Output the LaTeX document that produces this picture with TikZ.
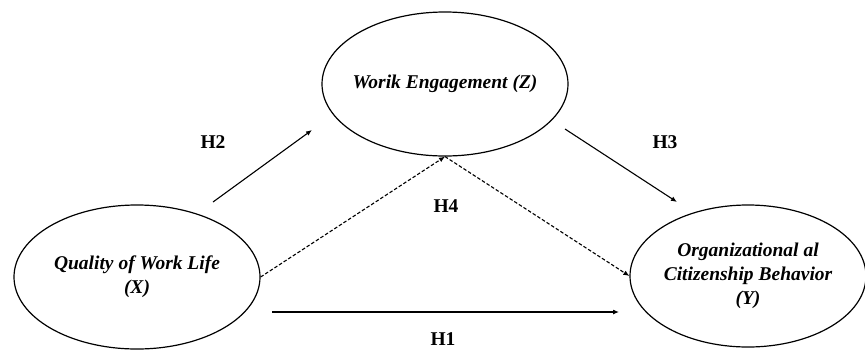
\documentclass[tikz,border=0pt]{standalone}
\usepackage{fontspec}
\setmainfont{Liberation Serif}
\usetikzlibrary{shapes.geometric,arrows.meta}
\tikzset{
	var/.style={ellipse, draw, line width=1.2pt, minimum width=246pt, minimum height=144pt, inner xsep=-40pt, inner ysep=-20pt, align=center, font=\fontsize{19.5}{24}\selectfont\bfseries\itshape},
	hyp/.style={font=\fontsize{19.5}{22}\selectfont\bfseries},
	link/.style={->, line width=1.1pt},
	mlink/.style={->, line width=1.1pt, dash pattern=on 3.5pt off 2pt}
}
\begin{document}
\begin{tikzpicture}[x=1pt, y=-1pt, >={Latex[length=6pt,width=5pt]}, line join=round]
	\useasboundingbox (0,0) rectangle (865,349);
	\node[var] (Z) at (445,84) {Worik Engagement (Z)};
	\node[var] (X) at (137,277) {Quality of Work Life\\(X)};
	\node[var, minimum width=236pt, minimum height=142pt] (Y) at (748,276) {Organizational al\\Citizenship Behavior\\(Y)};
	\coordinate (H2a)at(213,202);
	\coordinate (H2b)at(312,130);
	\coordinate (H3a)at(565,129);
	\coordinate (H3b)at(677,202);
	\coordinate (H1a)at(272,312);
	\coordinate (H1b)at(619,312);
	\draw[link] (H2a)--(H2b);
	\draw[link] (H3a)--(H3b);
	\draw[link] (H1a)--(H1b);
	\draw[mlink] (X.east)--(Z.south);
	\draw[mlink] (Z.south)--(Y.west);
	\node[hyp] (h2) at (213,142) {H2};
	\node[hyp] (h3) at (665,142) {H3};
	\node[hyp] (h4) at (446,206) {H4};
	\node[hyp] (h1) at (443,339) {H1};
\end{tikzpicture}
\end{document}
